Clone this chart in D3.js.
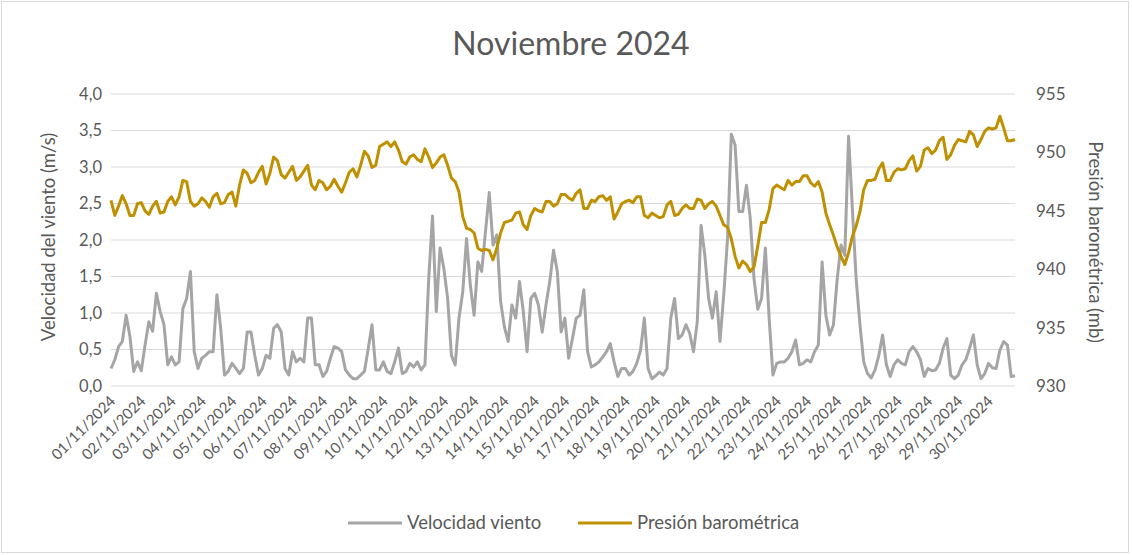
<!DOCTYPE html>
<html>
<head>
<meta charset="utf-8">
<script src="https://cdn.jsdelivr.net/npm/d3@7"></script>
<style>
  body { margin: 0; background: #fff; }
  svg { font-family: Lato, "Open Sans", sans-serif; }
</style>
</head>
<body>
<svg id="chart"></svg>
<script>
// readings every 3 hours, 8 per day, from 01/11/2024 00:00
const startDate = new Date(2024, 10, 1);
const stepHours = 3;

const windSpeed = [
  0.24, 0.36, 0.54, 0.61, 0.97, 0.68, 0.20, 0.33,
  0.21, 0.56, 0.88, 0.75, 1.27, 1.02, 0.84, 0.29,
  0.40, 0.29, 0.33, 1.06, 1.20, 1.57, 0.47, 0.24,
  0.38, 0.42, 0.47, 0.47, 1.25, 0.79, 0.15, 0.20,
  0.31, 0.24, 0.17, 0.24, 0.74, 0.74, 0.42, 0.15,
  0.24, 0.42, 0.38, 0.79, 0.84, 0.74, 0.24, 0.15,
  0.47, 0.33, 0.38, 0.33, 0.93, 0.93, 0.29, 0.29,
  0.13, 0.20, 0.38, 0.54, 0.52, 0.47, 0.22, 0.15,
  0.10, 0.10, 0.15, 0.20, 0.51, 0.84, 0.22, 0.22,
  0.33, 0.20, 0.17, 0.33, 0.52, 0.17, 0.20, 0.31,
  0.26, 0.33, 0.22, 0.29, 1.47, 2.33, 1.02, 1.89,
  1.61, 1.20, 0.42, 0.29, 0.93, 1.29, 2.02, 1.38,
  0.97, 1.70, 1.57, 2.11, 2.65, 1.93, 2.07, 1.16,
  0.81, 0.61, 1.11, 0.93, 1.43, 1.02, 0.47, 1.20,
  1.27, 1.11, 0.74, 1.11, 1.43, 1.86, 1.57, 0.74,
  0.93, 0.38, 0.65, 0.93, 0.97, 1.32, 0.47, 0.26,
  0.29, 0.33, 0.40, 0.47, 0.58, 0.33, 0.13, 0.24,
  0.24, 0.15, 0.20, 0.31, 0.49, 0.93, 0.24, 0.10,
  0.14, 0.19, 0.15, 0.24, 0.93, 1.20, 0.65, 0.70,
  0.84, 0.72, 0.47, 0.88, 2.20, 1.79, 1.20, 0.93,
  1.29, 0.61, 1.25, 2.02, 3.45, 3.30, 2.39, 2.39,
  2.75, 2.30, 1.47, 1.05, 1.20, 1.89, 0.93, 0.15,
  0.31, 0.33, 0.33, 0.38, 0.47, 0.63, 0.29, 0.31,
  0.36, 0.33, 0.47, 0.56, 1.70, 0.97, 0.70, 0.84,
  1.47, 1.93, 1.79, 3.42, 2.43, 1.47, 0.84, 0.33,
  0.17, 0.11, 0.22, 0.42, 0.70, 0.29, 0.13, 0.29,
  0.36, 0.31, 0.29, 0.47, 0.54, 0.47, 0.36, 0.13,
  0.24, 0.21, 0.22, 0.31, 0.52, 0.65, 0.15, 0.10,
  0.15, 0.29, 0.36, 0.52, 0.70, 0.29, 0.10, 0.17,
  0.31, 0.25, 0.24, 0.49, 0.61, 0.56, 0.13, 0.14
];

const pressure = [
  945.9, 944.6, 945.4, 946.3, 945.6, 944.6, 944.6, 945.6,
  945.7, 945.0, 944.7, 945.4, 945.8, 944.8, 944.9, 945.8,
  946.2, 945.5, 946.2, 947.6, 947.5, 945.8, 945.4, 945.6,
  946.1, 945.8, 945.3, 946.2, 946.5, 945.6, 945.7, 946.4,
  946.6, 945.4, 947.2, 948.5, 948.2, 947.4, 947.6, 948.3,
  948.8, 947.3, 948.2, 949.6, 949.3, 948.1, 947.8, 948.3,
  948.8, 947.6, 947.9, 948.4, 948.9, 947.2, 946.8, 947.6,
  947.4, 946.8, 947.1, 947.7, 947.1, 946.6, 947.4, 948.3,
  948.6, 947.9, 948.9, 950.1, 949.7, 948.7, 948.9, 950.5,
  950.7, 950.9, 950.5, 950.9, 950.2, 949.2, 949.0, 949.6,
  949.8, 949.4, 949.2, 950.3, 949.6, 948.7, 949.1, 949.6,
  949.8, 948.9, 947.8, 947.5, 946.6, 944.5, 943.5, 943.4,
  943.1, 941.8, 941.6, 941.7, 941.6, 940.8, 941.8, 943.1,
  944.0, 944.1, 944.2, 944.8, 944.9, 943.8, 943.4, 944.6,
  945.2, 945.0, 944.9, 945.8, 945.8, 945.4, 945.6, 946.4,
  946.4, 946.1, 945.9, 946.5, 946.8, 945.2, 945.2, 945.9,
  945.8, 946.2, 946.3, 945.9, 946.2, 944.3, 944.9, 945.6,
  945.8, 945.9, 945.7, 946.2, 946.2, 944.6, 944.4, 944.8,
  944.6, 944.4, 944.5, 945.5, 945.8, 944.6, 944.7, 945.2,
  945.5, 945.2, 945.2, 946.0, 945.9, 945.2, 945.6, 945.8,
  945.4, 944.6, 943.8, 943.6, 942.6, 941.1, 940.1, 940.7,
  940.4, 939.8, 940.2, 942.0, 944.0, 944.0, 945.1, 946.9,
  947.2, 947.0, 946.8, 947.6, 947.2, 947.5, 947.5, 948.0,
  948.0, 947.4, 947.1, 947.5, 946.6, 944.8, 943.8, 942.9,
  941.9, 941.1, 940.4, 941.4, 942.8, 943.7, 944.9, 946.8,
  947.6, 947.6, 947.7, 948.6, 949.1, 947.6, 947.6, 948.3,
  948.6, 948.5, 948.6, 949.3, 949.7, 948.4, 948.8, 950.2,
  950.4, 949.9, 950.2, 951.0, 951.3, 949.4, 949.8, 950.6,
  951.1, 951.0, 950.9, 951.8, 951.5, 950.5, 951.1, 951.8,
  952.1, 952.0, 952.1, 953.1, 952.1, 951.0, 951.0, 951.1
];

const windTicks = [0, 0.5, 1, 1.5, 2, 2.5, 3, 3.5, 4];
const pressureTicks = [930, 935, 940, 945, 950, 955];
const seriesNames = ["Velocidad viento", "Presión barométrica"];

const W = 1132, H = 555;
const margin = { top: 94, right: 117, bottom: 169, left: 111 };
const innerW = W - margin.left - margin.right;
const innerH = H - margin.top - margin.bottom;

const times = windSpeed.map((_, i) => d3.timeHour.offset(startDate, i * stepHours));
const days = d3.timeDay.range(startDate, new Date(2024, 10, 31));

const svg = d3.select("#chart").attr("width", W).attr("height", H);

svg.append("rect")
  .attr("x", 1.5).attr("y", 1.5)
  .attr("width", W - 5).attr("height", H - 4)
  .attr("fill", "#fff").attr("stroke", "#d9d9d9");

svg.append("text")
  .attr("x", 571).attr("y", 54.5)
  .attr("text-anchor", "middle")
  .attr("font-size", 32)
  .attr("fill", "#595959")
  .text("Noviembre 2024");

const g = svg.append("g").attr("transform", `translate(${margin.left},${margin.top})`);

const x = d3.scaleTime()
  .domain([startDate, times[times.length - 1]])
  .range([0, innerW]);
const yL = d3.scaleLinear().domain([0, 4]).range([innerH, 0]);
const yR = d3.scaleLinear().domain([930, 955]).range([innerH, 0]);

// gridlines
g.append("g")
  .selectAll("line")
  .data(windTicks)
  .join("line")
  .attr("x1", 0).attr("x2", innerW)
  .attr("y1", d => yL(d)).attr("y2", d => yL(d))
  .attr("stroke", "#d9d9d9").attr("stroke-width", 1);

const fmtComma = d3.format(".1f");

// left axis
g.append("g")
  .call(d3.axisLeft(yL).tickValues(windTicks).tickSize(0).tickPadding(9)
    .tickFormat(d => fmtComma(d).replace(".", ",")))
  .call(a => a.select(".domain").remove())
  .selectAll("text")
  .attr("font-size", 16.5).attr("fill", "#595959")
  .attr("font-family", "Lato, sans-serif");

// right axis
g.append("g")
  .attr("transform", `translate(${innerW},0)`)
  .call(d3.axisRight(yR).tickValues(pressureTicks).tickSize(0).tickPadding(21))
  .call(a => a.select(".domain").remove())
  .selectAll("text")
  .attr("font-size", 17).attr("fill", "#595959")
  .attr("font-family", "Lato, sans-serif");

// bottom axis with rotated dates
const xAxis = g.append("g")
  .attr("transform", `translate(0,${innerH})`)
  .call(d3.axisBottom(x).tickValues(days).tickSize(0).tickPadding(0)
    .tickFormat(d3.timeFormat("%d/%m/%Y")));
xAxis.select(".domain").remove();
xAxis.selectAll("text")
  .attr("font-size", 15).attr("fill", "#595959")
  .attr("font-family", "Lato, sans-serif")
  .attr("text-anchor", "end")
  .attr("dy", null).attr("y", 0)
  .attr("transform", "translate(5,16) rotate(-45)");

// axis titles
svg.append("text")
  .attr("transform", "translate(55,237) rotate(-90)")
  .attr("text-anchor", "middle")
  .attr("font-size", 18.5).attr("fill", "#595959")
  .text("Velocidad del viento (m/s)");

svg.append("text")
  .attr("transform", "translate(1089,242) rotate(90)")
  .attr("text-anchor", "middle")
  .attr("font-size", 18.5).attr("fill", "#595959")
  .text("Presión barométrica (mb)");

// lines
const windLine = d3.line().x((d, i) => x(times[i])).y(d => yL(d));
const presLine = d3.line().x((d, i) => x(times[i])).y(d => yR(d));

g.append("path")
  .datum(windSpeed)
  .attr("d", windLine)
  .attr("fill", "none")
  .attr("stroke", "#a5a5a5")
  .attr("stroke-width", 3)
  .attr("stroke-linejoin", "round");

g.append("path")
  .datum(pressure)
  .attr("d", presLine)
  .attr("fill", "none")
  .attr("stroke", "#bf9000")
  .attr("stroke-width", 3)
  .attr("stroke-linejoin", "round");

// legend
const colors = ["#a5a5a5", "#bf9000"];
const legendX = [348, 578];
const legend = svg.append("g").attr("transform", "translate(0,523)");
seriesNames.forEach((name, i) => {
  legend.append("line")
    .attr("x1", legendX[i]).attr("x2", legendX[i] + 54)
    .attr("y1", 0).attr("y2", 0)
    .attr("stroke", colors[i]).attr("stroke-width", 3);
  legend.append("text")
    .attr("x", legendX[i] + 59).attr("y", 6)
    .attr("font-size", 18.5).attr("fill", "#595959")
    .text(name);
});
</script>
</body>
</html>
